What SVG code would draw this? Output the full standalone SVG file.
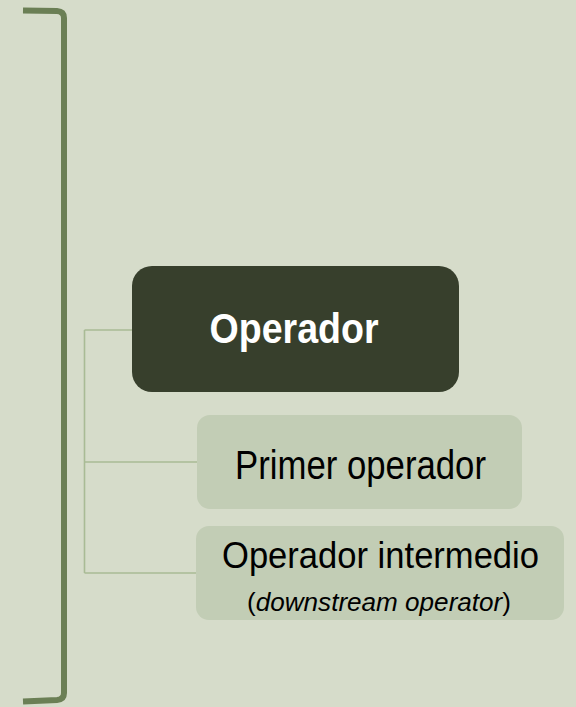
<svg xmlns="http://www.w3.org/2000/svg" width="576" height="707" viewBox="0 0 576 707">
<style>
.conn{fill:none;stroke:#A9BB95;stroke-width:1.6}
.dark{fill:#373F2C}
.light{fill:#C2CDB5}
.t{font-family:"Liberation Sans",Arial,sans-serif;text-anchor:middle}
</style>
<rect width="576" height="707" fill="#D6DCCA"/>
<g id="bracket">
<path d="M23,10.5 L57,11 Q64,11.5 64,18 L64,693 Q64,699.5 57,700 L23,701.5" fill="none" stroke="#6B7F55" stroke-width="6"/>
</g>
<g id="connectors">
<path class="conn" d="M84.5,330 L84.5,573 M84.5,330 L132,330 M84.5,462 L197,462 M84.5,573 L197,573"/>
</g>
<g id="operador">
<rect class="dark" x="132" y="266" width="327" height="126" rx="20"/>
<text class="t" x="294" y="343" font-size="43" font-weight="bold" fill="#FFFFFF" textLength="169" lengthAdjust="spacingAndGlyphs">Operador</text>
</g>
<g id="primer">
<rect class="light" x="197" y="415" width="325" height="94" rx="13"/>
<text class="t" x="360.5" y="479" font-size="40" fill="#000000" textLength="251" lengthAdjust="spacingAndGlyphs">Primer operador</text>
</g>
<g id="intermedio">
<rect class="light" x="196" y="526" width="368" height="94" rx="13"/>
<text class="t" x="380.5" y="567.5" font-size="36" fill="#000000" textLength="317" lengthAdjust="spacingAndGlyphs">Operador intermedio</text>
<text class="t" x="379" y="611" font-size="25" fill="#000000" textLength="264" lengthAdjust="spacingAndGlyphs">(<tspan font-style="italic">downstream operator</tspan>)</text>
</g>
</svg>
